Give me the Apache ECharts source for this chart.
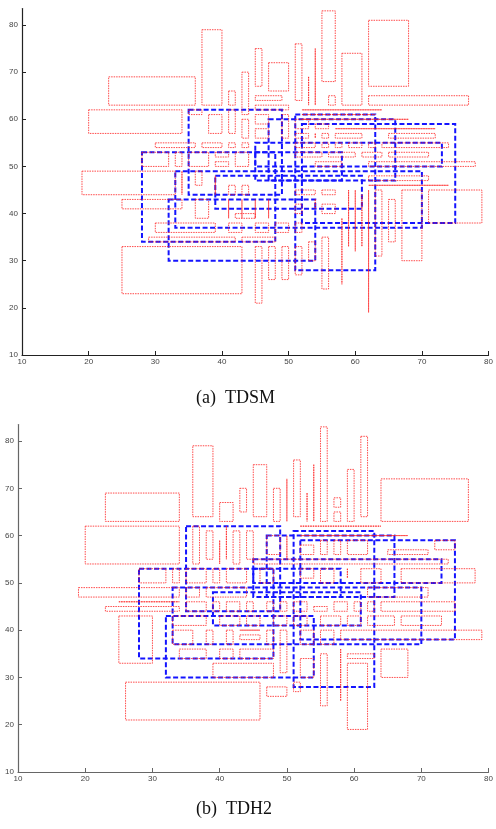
<!DOCTYPE html>
<html>
<head>
<meta charset="utf-8">
<script src="https://cdn.jsdelivr.net/npm/echarts@6/dist/echarts.min.js"></script>
<style>
  html, body { margin: 0; padding: 0; background: #fff; }
  #chart { width: 496px; height: 829px; }
</style>
</head>
<body>
<div id="chart"></div>
<script>
var myChart = echarts.init(document.getElementById('chart'));

// boxes are [x1, y1, x2, y2]
var xTicks = [10, 20, 30, 40, 50, 60, 70, 80];
var yTicks = [10, 20, 30, 40, 50, 60, 70, 80];

// blue dashed boxes (same in both panels)
var blueBoxes = [
    [35, 44, 49, 62], [39, 41, 61, 48], [33, 37, 70, 49], [28, 34, 48, 53], [32, 30, 54, 43],
    [51, 28, 63, 61], [52, 38, 75, 59], [45, 50, 73, 55], [47, 47, 66, 60], [45, 47, 58, 53]
];

// (a) TDSM red dotted boxes
var tdsmBoxes = [
    [23, 63, 36, 69], [37, 63, 40, 79], [41, 63, 42, 66], [43, 61, 44, 70], [45, 67, 46, 75],
    [47, 66, 50, 72], [51, 64, 52, 76], [53, 63, 53, 69], [54, 63, 54, 75], [55, 68, 57, 83],
    [56, 63, 57, 65], [58, 63, 61, 74], [62, 67, 68, 81], [62, 63, 77, 65], [45, 64, 49, 65],
    [45, 62, 50, 63], [52, 62, 64, 62], [20, 57, 34, 62], [35, 61, 37, 62], [38, 57, 40, 61],
    [41, 57, 42, 62], [43, 56, 44, 60], [45, 59, 47, 61], [45, 56, 47, 58], [49, 56, 50, 61],
    [51, 58, 53, 60], [51, 56, 53, 57], [54, 56, 54, 57], [55, 56, 56, 57], [54, 58, 56, 59],
    [57, 56, 61, 57], [65, 56, 72, 57], [57, 58, 72, 58], [52, 60, 68, 60], [52, 61, 63, 61],
    [30, 54, 36, 55], [37, 54, 40, 55], [41, 54, 42, 55], [43, 54, 44, 55], [51, 54, 54, 55],
    [55, 54, 56, 55], [57, 54, 58, 55], [59, 54, 61, 55], [62, 54, 63, 55], [64, 54, 74, 55],
    [28, 50, 32, 53], [33, 50, 34, 53], [35, 50, 38, 53], [39, 52, 41, 53], [39, 50, 41, 51],
    [42, 50, 44, 53], [51, 52, 55, 53], [56, 52, 60, 53], [61, 52, 64, 53], [65, 52, 71, 53],
    [54, 50, 58, 51], [62, 50, 78, 51], [19, 44, 33, 49], [25, 23, 43, 33], [25, 41, 34, 43],
    [30, 36, 39, 38], [29, 34, 42, 35], [43, 34, 48, 35], [41, 36, 43, 38], [45, 36, 47, 38],
    [48, 36, 50, 38], [51, 36, 52, 38], [45, 21, 46, 33], [47, 26, 48, 33], [49, 26, 50, 33],
    [51, 27, 52, 33], [53, 30, 54, 34], [55, 24, 56, 35], [58, 25, 58, 39], [59, 33, 59, 45],
    [60, 32, 60, 45], [61, 33, 61, 44], [62, 19, 62, 45], [62, 46, 74, 46], [63, 31, 64, 45],
    [65, 34, 66, 43], [67, 30, 70, 45], [71, 38, 79, 45], [62, 47, 71, 48], [36, 46, 37, 49],
    [41, 44, 42, 46], [43, 44, 44, 46], [36, 39, 38, 43], [42, 39, 45, 40], [51, 44, 54, 45],
    [55, 44, 57, 45], [55, 40, 57, 42], [51, 40, 52, 42], [34, 44, 34, 49], [39, 44, 39, 48],
    [41, 39, 41, 43], [43, 39, 43, 43], [45, 39, 45, 43], [47, 39, 47, 43], [54, 41, 54, 43]
];

// (b) TDH2 red dotted boxes
var tdh2Boxes = [
    [23, 63, 34, 69], [36, 64, 39, 79], [40, 63, 42, 67], [43, 65, 44, 70], [45, 64, 47, 75],
    [48, 63, 49, 70], [50, 63, 50, 72], [51, 64, 52, 76], [53, 63, 53, 69], [54, 63, 54, 75],
    [55, 63, 56, 83], [57, 66, 58, 68], [57, 63, 58, 65], [59, 63, 60, 74], [61, 64, 62, 81],
    [64, 63, 77, 72], [52, 62, 64, 62], [20, 54, 34, 62], [52, 60, 68, 60], [36, 54, 37, 62],
    [38, 55, 39, 61], [40, 54, 40, 59], [41, 55, 41, 62], [42, 54, 43, 61], [44, 55, 45, 61],
    [47, 56, 49, 60], [50, 55, 50, 60], [52, 56, 54, 58], [55, 56, 56, 59], [57, 56, 58, 59],
    [59, 56, 62, 59], [65, 56, 71, 57], [72, 57, 75, 59], [45, 54, 74, 55], [28, 50, 32, 53],
    [33, 50, 34, 53], [35, 50, 38, 53], [39, 50, 40, 53], [41, 50, 44, 53], [46, 50, 48, 53],
    [52, 51, 54, 53], [55, 50, 57, 53], [59, 51, 59, 53], [61, 50, 64, 53], [67, 50, 78, 53],
    [19, 47, 34, 49], [35, 47, 37, 49], [38, 47, 44, 49], [62, 47, 71, 49], [25, 46, 34, 46],
    [23, 44, 34, 45], [35, 44, 38, 46], [39, 44, 40, 46], [41, 44, 43, 46], [44, 44, 45, 46],
    [47, 44, 48, 46], [49, 44, 50, 46], [51, 44, 53, 46], [54, 44, 56, 45], [57, 44, 59, 46],
    [60, 44, 61, 46], [62, 44, 63, 46], [64, 44, 75, 46], [25, 33, 30, 43], [33, 41, 38, 43],
    [40, 41, 43, 43], [44, 41, 46, 43], [48, 41, 50, 43], [51, 41, 53, 43], [55, 41, 58, 43],
    [59, 41, 61, 43], [62, 41, 66, 43], [67, 41, 73, 43], [33, 37, 36, 40], [38, 37, 39, 40],
    [41, 37, 42, 40], [43, 38, 46, 39], [43, 40, 46, 40], [47, 37, 48, 40], [49, 31, 50, 40],
    [52, 37, 54, 40], [55, 37, 57, 40], [58, 38, 79, 40], [34, 34, 38, 36], [40, 34, 42, 36],
    [43, 34, 48, 36], [39, 30, 48, 33], [52, 30, 54, 34], [55, 24, 56, 35], [58, 25, 58, 36],
    [59, 34, 63, 35], [59, 19, 62, 33], [64, 30, 68, 36], [51, 27, 52, 29], [47, 26, 50, 28],
    [26, 21, 46, 29]
];

var redColor = 'rgba(255, 30, 30, 0.8)';
var blueColor = '#1414ff';
var axisColors = ['#222', '#666'];

function boxItem(stroke, width, dash) {
    return function (params, api) {
        var a = api.coord([api.value(0), api.value(1)]);
        var b = api.coord([api.value(2), api.value(3)]);
        return {
            type: 'rect',
            shape: {
                x: Math.min(a[0], b[0]),
                y: Math.min(a[1], b[1]),
                width: Math.abs(b[0] - a[0]),
                height: Math.abs(b[1] - a[1])
            },
            style: { fill: 'none', stroke: stroke, lineWidth: width, lineDash: dash }
        };
    };
}

function makeAxis(idx, kind) {
    var ticks = kind === 'x' ? xTicks : yTicks;
    return {
        type: 'value',
        gridIndex: idx,
        min: 10,
        max: kind === 'x' ? 80 : 83.5,
        splitLine: { show: false },
        axisLine: { onZero: false, lineStyle: { color: axisColors[idx], width: 1.2 } },
        axisTick: { inside: true, length: 4, customValues: ticks, lineStyle: { color: axisColors[idx] } },
        axisLabel: {
            customValues: ticks,
            color: '#444',
            fontSize: 8,
            fontFamily: 'Liberation Sans',
            margin: kind === 'x' ? 3 : 4
        }
    };
}

var option = {
    animation: false,
    grid: [
        { left: 22, right: 1, top: 8.5, bottom: 474 },
        { left: 18, right: 7, top: 424.5, bottom: 57 }
    ],
    xAxis: [makeAxis(0, 'x'), makeAxis(1, 'x')],
    yAxis: [makeAxis(0, 'y'), makeAxis(1, 'y')],
    graphic: [
        {
            type: 'text', left: 196, top: 389,
            style: { text: '(a)  TDSM', font: '18px "Liberation Serif"', fill: '#111' }
        },
        {
            type: 'text', left: 196, top: 800,
            style: { text: '(b)  TDH2', font: '18px "Liberation Serif"', fill: '#111' }
        }
    ],
    series: []
};

var panels = [tdsmBoxes, tdh2Boxes];
for (var i = 0; i < panels.length; i++) {
    option.series.push({
        type: 'custom',
        xAxisIndex: i,
        yAxisIndex: i,
        z: 2,
        renderItem: boxItem(blueColor, 2, [5, 2.5]),
        encode: { x: [0, 2], y: [1, 3] },
        data: blueBoxes
    });
    option.series.push({
        type: 'custom',
        xAxisIndex: i,
        yAxisIndex: i,
        z: 3,
        renderItem: boxItem(redColor, 1, [1.5, 1]),
        encode: { x: [0, 2], y: [1, 3] },
        data: panels[i]
    });
}

myChart.setOption(option);
</script>
</body>
</html>
